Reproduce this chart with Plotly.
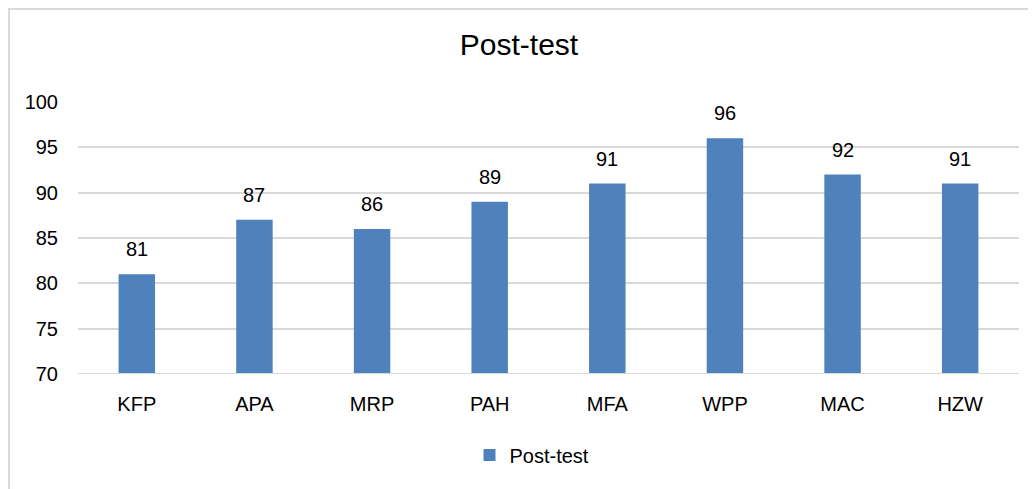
import plotly.graph_objects as go

categories = ["KFP", "APA", "MRP", "PAH", "MFA", "WPP", "MAC", "HZW"]
values = [81, 87, 86, 89, 91, 96, 92, 91]
series_name = "Post-test"
y_ticks = [70, 75, 80, 85, 90, 95, 100]

# page has an 8px body margin, so figure coords = page coords - 8
W, H = 1028, 481
L, R, T, B = 70, 17, 94, 115
pw, ph = W - L - R, H - T - B

fig = go.Figure()
fig.add_trace(go.Bar(
    x=categories, y=values, name=series_name,
    marker=dict(color="#4F81BD", line=dict(width=0)),
    width=0.31,
))
for c, v in zip(categories, values):
    fig.add_annotation(x=c, y=v, text=str(v), showarrow=False, yanchor="middle",
                       yshift=25, font=dict(size=20, color="#000000"))

fig.update_layout(
    width=W, height=H,
    margin=dict(l=L, r=R, t=T, b=B),
    paper_bgcolor="white", plot_bgcolor="white",
    font=dict(family="Liberation Sans, Arial, sans-serif", color="#000000"),
    title=dict(text="Post-test", x=(519 - 8 - 0) / W, xanchor="center", y=1 - (44 - 8) / H, yanchor="middle",
               font=dict(size=30, color="#000000")),
    showlegend=True,
    legend=dict(orientation="h", x=(524 - L) / pw, xanchor="center", y=-(447 - (T + ph)) / ph, yanchor="middle",
                font=dict(size=20), itemsizing="constant"),
    xaxis=dict(showgrid=False, showline=False, ticks="", tickfont=dict(size=20), ticklabelstandoff=16),
    yaxis=dict(range=[70, 100], tickvals=y_ticks, showgrid=True, gridcolor="#D9D9D9", gridwidth=1.5,
               zeroline=False, showline=False, ticks="", tickfont=dict(size=20), ticklabelstandoff=19),
    shapes=[
        dict(type="line", xref="paper", yref="y", x0=0, x1=1, y0=70, y1=70,
             line=dict(color="#D9D9D9", width=2)),
        dict(type="line", xref="paper", yref="paper", x0=-L / pw, x1=1 + R / pw,
             y0=1 + (T - 1) / ph, y1=1 + (T - 1) / ph,
             line=dict(color="#D9D9D9", width=2)),
        dict(type="line", xref="paper", yref="paper", x0=-(L - 1) / pw, x1=-(L - 1) / pw,
             y0=1 + T / ph, y1=-B / ph,
             line=dict(color="#D9D9D9", width=2)),
    ],
)
fig.write_html("out.html")
